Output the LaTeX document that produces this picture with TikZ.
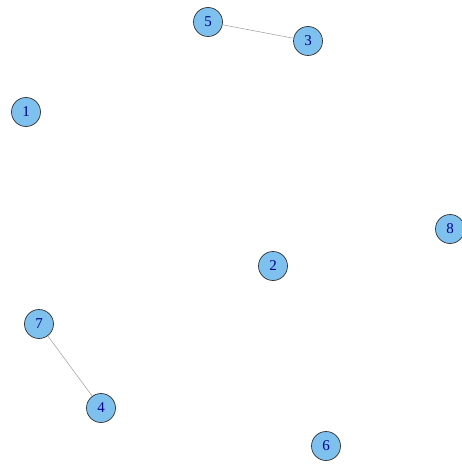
\documentclass[tikz,border=0pt]{standalone}
\usepackage{fontspec}
\setmainfont{Liberation Serif}
\definecolor{vfill}{HTML}{7EC0EE}
\definecolor{vlab}{HTML}{00008B}
\definecolor{edgec}{HTML}{A8A8A8}
\begin{document}
\begin{tikzpicture}[x=1pt,y=-1pt,
  vert/.style={circle,draw=black!80,line width=0.7pt,fill=vfill,minimum size=29pt,inner sep=0pt,text=vlab,font=\fontsize{15}{15}\selectfont},
  edge/.style={draw=edgec,line width=0.6pt}]
\useasboundingbox (0,0) rectangle (462,465);
\node[vert] (n5) at (208,22) {5};
\node[vert] (n3) at (308,41) {3};
\node[vert] (n1) at (26,112) {1};
\node[vert] (n8) at (450,229) {8};
\node[vert] (n2) at (273,266) {2};
\node[vert] (n7) at (39,324) {7};
\node[vert] (n4) at (101,408) {4};
\node[vert] (n6) at (326,446) {6};
\draw[edge] (n5) -- (n3);
\draw[edge] (n7) -- (n4);
\end{tikzpicture}
\end{document}
